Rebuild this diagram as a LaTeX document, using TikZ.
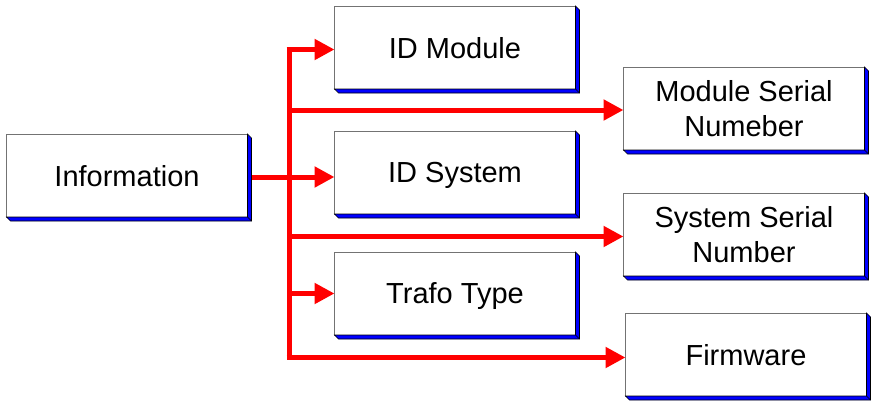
\documentclass[tikz,border=0pt]{standalone}
\usepackage{fontspec}
\setmainfont{Liberation Sans}
\usepackage{tikz}
\usetikzlibrary{positioning,arrows.meta,calc}

\begin{document}
\begin{tikzpicture}[
  x=1pt, y=-1pt,
  node distance=42pt and 47pt,
  every node/.style={font=\fontsize{29}{35}\selectfont},
  box/.style={draw=black!55, line width=0.8pt, fill=white, minimum width=241pt, minimum height=83pt, align=center, text depth=0pt, inner sep=0pt, outer sep=0pt},
  shade3d/.style={draw=black, fill=blue, line width=0.6pt, line join=miter},
  link/.style={red, line width=5pt},
  arr/.style={link, -{Triangle[length=20pt, width=20pt]}},
]
\useasboundingbox (0,0) rectangle (871,402);
\node[box] (info) at (127,175.5) {Information};
\node[box] (idmod) at (455,47.5) {ID Module};
\node[box, below=of idmod] (idsys) {ID System};
\node[box, below=38pt of idsys] (trafo) {Trafo Type};
\node[box] (modser) at (744,108.5) {Module Serial\\Numeber};
\node[box, below=43pt of modser] (sysser) {System Serial\\Number};
\node[box, below=37pt of sysser, xshift=2pt] (firm) {Firmware};
% blue 3d edge
\foreach \n in {info,idmod,idsys,trafo,modser,sysser,firm} {
  \draw[shade3d] (\n.south west) -- ($(\n.south west)+(4,4)$) -- ($(\n.south east)+(4,4)$)
    -- ($(\n.north east)+(4,4)$) -- (\n.north east) -- (\n.south east) -- cycle;
  \draw[line width=0.6pt] (\n.south east) -- ($(\n.south east)+(4,4)$);
}
% bus
\coordinate (bus) at (289,0);
\draw[link, line join=round] ($(bus |- idmod.west)+(0,2)$) -- ($(bus |- firm.west)+(0,3)$);
\draw[link] ($(info.east)+(4,1.5)$) -- ($(info.east -| bus)+(0,1.5)$);
\draw[arr] ($(bus |- idmod.west)+(-2.5,2)$) -- ($(idmod.west)+(0,2)$);
\draw[arr] ($(bus |- modser.west)+(0,1.5)$) -- ($(modser.west)+(0,1.5)$);
\draw[arr] ($(bus |- idsys.west)+(0,4.5)$) -- ($(idsys.west)+(0,4.5)$);
\draw[arr] ($(bus |- sysser.west)+(0,2)$) -- ($(sysser.west)+(0,2)$);
\draw[arr] (bus |- trafo.west) -- (trafo.west);
\draw[arr] ($(bus |- firm.west)+(-2.5,3)$) -- ($(firm.west)+(0,3)$);
\end{tikzpicture}
\end{document}
